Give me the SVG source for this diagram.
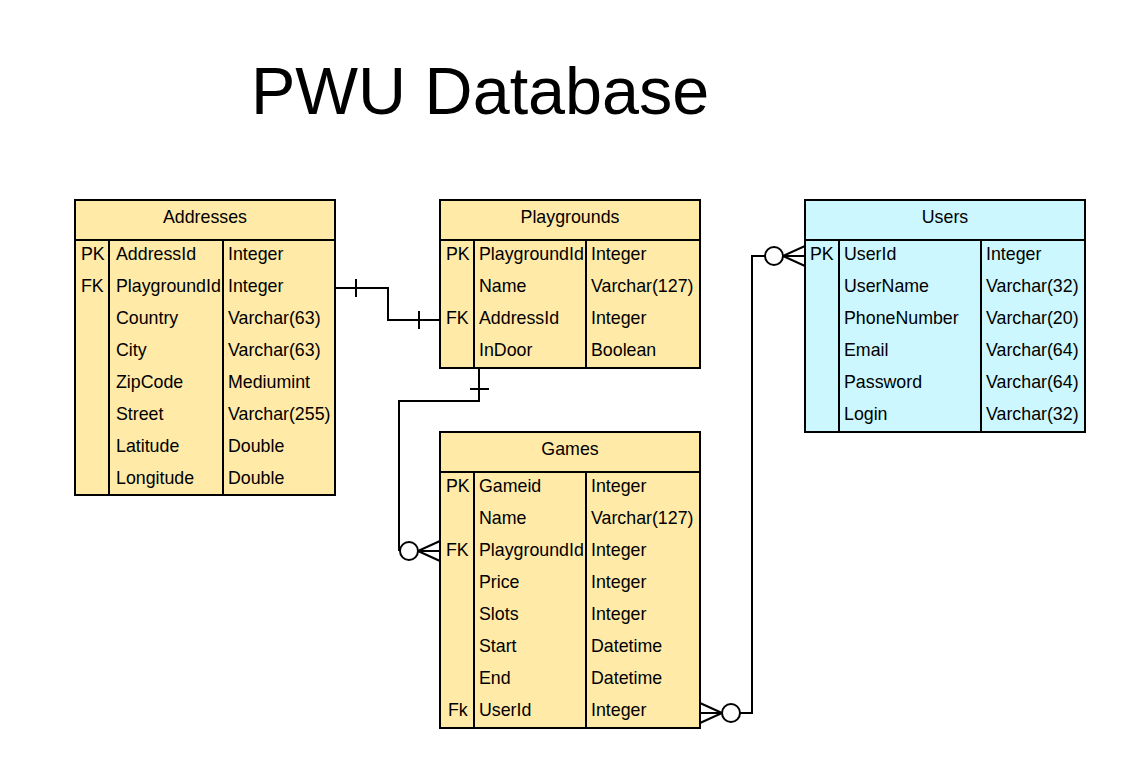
<svg xmlns="http://www.w3.org/2000/svg" width="1126" height="768" viewBox="0 0 1126 768">
<style>
.t{font-family:"Liberation Sans",Arial,sans-serif;font-size:17.8px;fill:#000}
.h{text-anchor:middle}
.y{fill:#FFEAA8;stroke:#000;stroke-width:2}
.c{fill:#CCF7FF;stroke:#000;stroke-width:2}
.l{fill:none;stroke:#000;stroke-width:2}
.title{font-family:"Liberation Sans",Arial,sans-serif;font-size:66.5px;fill:#000}
</style>
<rect width="1126" height="768" fill="#fff"/>
<text class="title" x="251" y="114">PWU Database</text>

<g id="addresses">
<rect class="y" x="75" y="200" width="260" height="295"/>
<path class="l" d="M75 240H335M109 240V495M223 240V495"/>
<text class="t h" x="205" y="223">Addresses</text>
<text class="t" x="81" y="260">PK</text><text class="t" x="116" y="260">AddressId</text><text class="t" x="228" y="260">Integer</text>
<text class="t" x="81" y="292">FK</text><text class="t" x="116" y="292">PlaygroundId</text><text class="t" x="228" y="292">Integer</text>
<text class="t" x="116" y="324">Country</text><text class="t" x="228" y="324">Varchar(63)</text>
<text class="t" x="116" y="356">City</text><text class="t" x="228" y="356">Varchar(63)</text>
<text class="t" x="116" y="388">ZipCode</text><text class="t" x="228" y="388">Mediumint</text>
<text class="t" x="116" y="420">Street</text><text class="t" x="228" y="420">Varchar(255)</text>
<text class="t" x="116" y="452">Latitude</text><text class="t" x="228" y="452">Double</text>
<text class="t" x="116" y="484">Longitude</text><text class="t" x="228" y="484">Double</text>
</g>

<g id="playgrounds">
<rect class="y" x="440" y="200" width="260" height="168"/>
<path class="l" d="M440 240H700M474 240V368M586 240V368"/>
<text class="t h" x="570" y="223">Playgrounds</text>
<text class="t" x="446" y="260">PK</text><text class="t" x="479" y="260">PlaygroundId</text><text class="t" x="591" y="260">Integer</text>
<text class="t" x="479" y="292">Name</text><text class="t" x="591" y="292">Varchar(127)</text>
<text class="t" x="446" y="324">FK</text><text class="t" x="479" y="324">AddressId</text><text class="t" x="591" y="324">Integer</text>
<text class="t" x="479" y="356">InDoor</text><text class="t" x="591" y="356">Boolean</text>
</g>

<g id="games">
<rect class="y" x="440" y="432" width="260" height="296"/>
<path class="l" d="M440 472H700M474 472V728M586 472V728"/>
<text class="t h" x="570" y="455">Games</text>
<text class="t" x="446" y="492">PK</text><text class="t" x="479" y="492">Gameid</text><text class="t" x="591" y="492">Integer</text>
<text class="t" x="479" y="524">Name</text><text class="t" x="591" y="524">Varchar(127)</text>
<text class="t" x="446" y="556">FK</text><text class="t" x="479" y="556">PlaygroundId</text><text class="t" x="591" y="556">Integer</text>
<text class="t" x="479" y="588">Price</text><text class="t" x="591" y="588">Integer</text>
<text class="t" x="479" y="620">Slots</text><text class="t" x="591" y="620">Integer</text>
<text class="t" x="479" y="652">Start</text><text class="t" x="591" y="652">Datetime</text>
<text class="t" x="479" y="684">End</text><text class="t" x="591" y="684">Datetime</text>
<text class="t" x="448" y="716">Fk</text><text class="t" x="479" y="716">UserId</text><text class="t" x="591" y="716">Integer</text>
</g>

<g id="users">
<rect class="c" x="805" y="200" width="280" height="232"/>
<path class="l" d="M805 240H1085M839 240V432M981 240V432"/>
<text class="t h" x="945" y="223">Users</text>
<text class="t" x="810" y="260">PK</text><text class="t" x="844" y="260">UserId</text><text class="t" x="986" y="260">Integer</text>
<text class="t" x="844" y="292">UserName</text><text class="t" x="986" y="292">Varchar(32)</text>
<text class="t" x="844" y="324">PhoneNumber</text><text class="t" x="986" y="324">Varchar(20)</text>
<text class="t" x="844" y="356">Email</text><text class="t" x="986" y="356">Varchar(64)</text>
<text class="t" x="844" y="388">Password</text><text class="t" x="986" y="388">Varchar(64)</text>
<text class="t" x="844" y="420">Login</text><text class="t" x="986" y="420">Varchar(32)</text>
</g>

<g id="connectors">
<path class="l" d="M335 288H388V320H440"/>
<path class="l" d="M356 279V297M419 311V329"/>
<path class="l" d="M479 368V401H399V551"/>
<path class="l" d="M470 389H489"/>
<circle class="l" cx="409" cy="551" r="9"/>
<path class="l" d="M418 551H440M418 551L440 541M418 551L440 561"/>
<path class="l" d="M765 256H752V713H740"/>
<circle class="l" cx="774" cy="256" r="9"/>
<path class="l" d="M783 256H805M783 256L805 246M783 256L805 266"/>
<circle class="l" cx="731" cy="713" r="9"/>
<path class="l" d="M722 713H700M722 713L700 703M722 713L700 723"/>
</g>
</svg>
